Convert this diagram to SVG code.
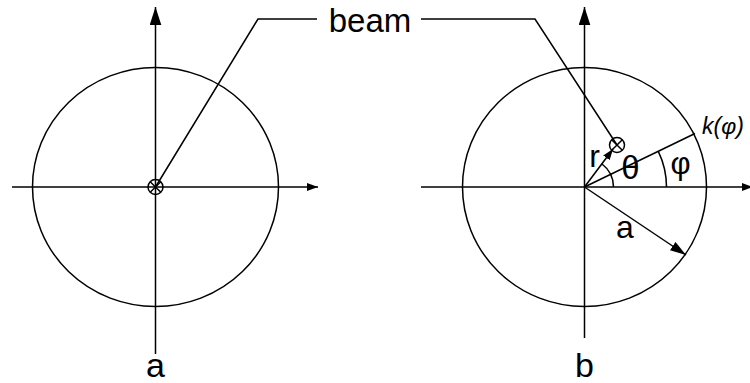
<svg xmlns="http://www.w3.org/2000/svg" width="750" height="383" viewBox="0 0 750 383">
<defs>
<style>
.ln{stroke:#000;stroke-width:1.5;fill:none}
.tx{font-family:"Liberation Sans",Arial,sans-serif;fill:#000}
</style>
<marker id="av" markerUnits="userSpaceOnUse" markerWidth="18" markerHeight="12" viewBox="0 0 17 11" refX="17" refY="5.5" orient="auto"><path d="M0,0 L17,5.5 L0,11 Z" fill="#000"/></marker>
<marker id="ah" markerUnits="userSpaceOnUse" markerWidth="11" markerHeight="8" viewBox="0 0 11 8" refX="11" refY="4" orient="auto"><path d="M0,0 L11,4 L0,8 Z" fill="#000"/></marker>
<marker id="aa" markerUnits="userSpaceOnUse" markerWidth="16" markerHeight="10" viewBox="0 0 16 10" refX="16" refY="5" orient="auto"><path d="M0,0 L16,5 L0,10 Z" fill="#000"/></marker>
<marker id="ar" markerUnits="userSpaceOnUse" markerWidth="11" markerHeight="8" viewBox="0 0 11 8" refX="11" refY="4" orient="auto"><path d="M0,0 L11,4 L0,8 Z" fill="#000"/></marker>
</defs>
<rect width="750" height="383" fill="#fff"/>
<g id="diagram-a">
<ellipse class="ln" cx="155.5" cy="187" rx="123" ry="119.5"/>
<line class="ln" x1="155.5" y1="354" x2="155.5" y2="7" marker-end="url(#av)"/>
<line class="ln" x1="12" y1="187" x2="318" y2="187" marker-end="url(#ah)"/>
<g id="beam-a">
<circle class="ln" cx="155.5" cy="187" r="7.5"/>
<path class="ln" d="M150.2,181.7 L160.8,192.3 M160.8,181.7 L150.2,192.3"/>
</g>
<text class="tx" x="155.5" y="377" font-size="34" text-anchor="middle">a</text>
</g>
<g id="diagram-b">
<ellipse class="ln" cx="584.5" cy="187" rx="122" ry="119.5"/>
<line class="ln" x1="584.5" y1="338" x2="584.5" y2="7" marker-end="url(#av)"/>
<line class="ln" x1="421" y1="187" x2="753" y2="187" marker-end="url(#ah)"/>
<line class="ln" x1="584.5" y1="187" x2="695" y2="133.5"/>
<path class="ln" d="M666.5,187 A82,82 0 0 0 658.3,151.3"/>
<path class="ln" d="M613.5,187 A29,29 0 0 0 602,164"/>
<line class="ln" x1="584.5" y1="187" x2="613" y2="149" marker-end="url(#ar)"/>
<line class="ln" x1="584.5" y1="187" x2="686" y2="255" marker-end="url(#aa)"/>
<g id="beam-b">
<circle class="ln" cx="617" cy="145" r="7.5"/>
<path class="ln" d="M611.7,139.7 L622.3,150.3 M622.3,139.7 L611.7,150.3"/>
</g>
<text class="tx" x="594.5" y="167" font-size="32" text-anchor="middle">r</text>
<text class="tx" x="630.5" y="179" font-size="33" text-anchor="middle">θ</text>
<text class="tx" x="680.5" y="174" font-size="31" text-anchor="middle">φ</text>
<text class="tx" x="702" y="134" font-size="23" font-style="italic">k(φ)</text>
<text class="tx" x="625" y="238" font-size="32" text-anchor="middle">a</text>
<text class="tx" x="584.5" y="377" font-size="34" text-anchor="middle">b</text>
</g>
<g id="connectors">
<polyline class="ln" points="155.5,187 258,19 317,19"/>
<polyline class="ln" points="421,19 535,19 617,145"/>
</g>
<g id="label-beam">
<text class="tx" x="370" y="32" font-size="33" text-anchor="middle">beam</text>
</g>
</svg>
